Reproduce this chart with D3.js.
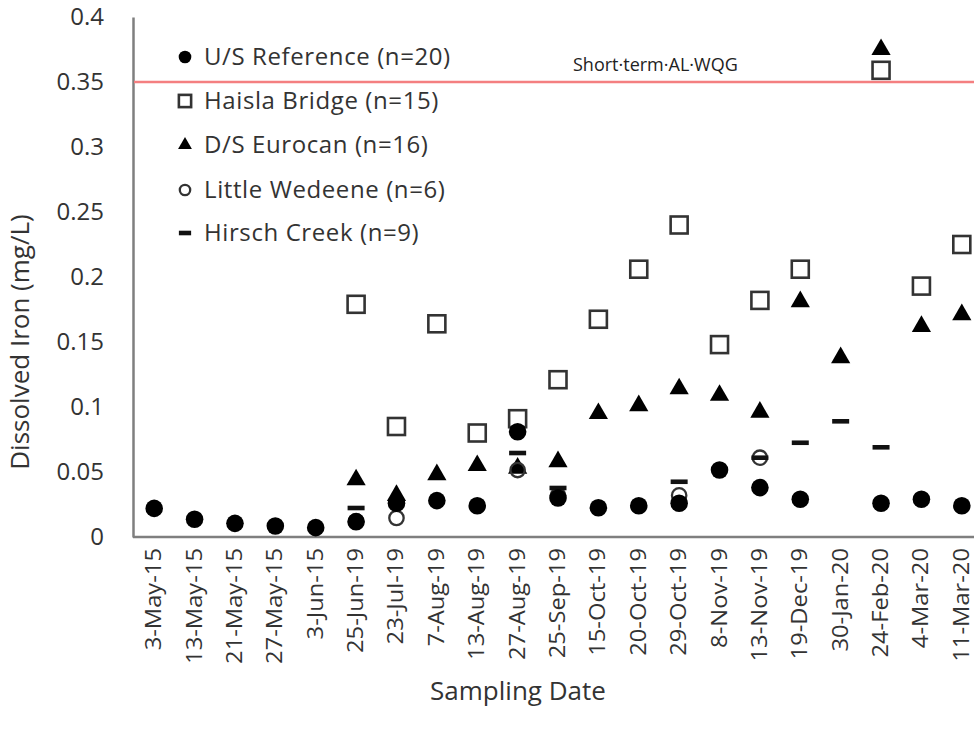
<!DOCTYPE html>
<html><head><meta charset="utf-8">
<script src="https://cdn.jsdelivr.net/npm/d3@7"></script>
<style>body{margin:0;background:#fff}svg{display:block}</style>
</head><body><svg id="chart" width="974" height="735"></svg>
<script>
const dates = ["3-May-15","13-May-15","21-May-15","27-May-15","3-Jun-15","25-Jun-19","23-Jul-19","7-Aug-19","13-Aug-19","27-Aug-19","25-Sep-19","15-Oct-19","20-Oct-19","29-Oct-19","8-Nov-19","13-Nov-19","19-Dec-19","30-Jan-20","24-Feb-20","4-Mar-20","11-Mar-20"];
// null = not sampled
const usReference = [0.022,0.0136,0.0105,0.0085,0.0072,0.0118,0.026,0.028,0.024,0.081,0.030,0.0225,0.024,0.026,0.0515,0.038,0.029,null,0.026,0.029,0.024];
const haislaBridge = [null,null,null,null,null,0.179,0.085,0.164,0.080,0.091,0.121,0.1675,0.206,0.240,0.148,0.182,0.206,null,0.359,0.193,0.225];
const dsEurocan = [null,null,null,null,null,0.044,0.032,0.048,0.055,0.053,0.058,0.095,0.101,0.114,0.109,0.096,0.181,0.138,0.375,0.162,0.171];
const littleWedeene = [null,null,null,null,null,0.012,0.0146,null,null,0.0515,0.032,null,null,0.032,null,0.061,null,null,null,null,null];
const hirschCreek = [null,null,null,null,null,0.0223,0.026,null,null,0.0646,0.0377,null,null,0.0425,null,0.061,0.0725,0.089,0.069,null,null];
const seriesNames = ["U/S Reference (n=20)","Haisla Bridge (n=15)","D/S Eurocan (n=16)","Little Wedeene (n=6)","Hirsch Creek (n=9)"];
const yTicks = [0,0.05,0.1,0.15,0.2,0.25,0.3,0.35,0.4];
const guideline = 0.35;
const guideLabel = "Short·term·AL·WQG";
const xTitle = "Sampling Date";
const yTitle = "Dissolved Iron (mg/L)";

const svg = d3.select("#chart");
const font = "'Open Sans', sans-serif";
const textCol = "#333";
const left = 133, bottom = 537;
const x = d3.scaleBand().domain(dates).range([134, 982]).padding(0);
const y = d3.scaleLinear().domain([0, 0.4]).range([537, 17]);
const cx = d => x(d) + x.bandwidth()/2;

// axes
const yAxis = d3.axisLeft(y).tickValues(yTicks).tickSize(0).tickPadding(29).tickFormat(d => d3.format("")(+d.toFixed(2)));
const gy = svg.append("g").attr("transform", `translate(${left},0)`).call(yAxis);
gy.select(".domain").attr("stroke", "#7f7f7f").attr("stroke-width", 2.5);
gy.selectAll("text").attr("font-family", font).attr("font-size", 24).attr("fill", textCol);

const xAxis = d3.axisBottom(x).tickSize(0).tickPadding(0);
const gx = svg.append("g").attr("transform", `translate(0,${bottom})`).call(xAxis);
gx.select(".domain").remove();
svg.append("line").attr("x1", left).attr("x2", 982).attr("y1", bottom).attr("y2", bottom)
  .attr("stroke", "#7f7f7f").attr("stroke-width", 2.5);
gx.selectAll("text").attr("font-family", font).attr("font-size", 21).attr("fill", textCol)
  .attr("text-anchor", "end").attr("dy", null)
  .attr("transform", "translate(7,11) rotate(-90) scale(1.13,1)");

// guideline
svg.append("line").attr("x1", left + 1).attr("x2", 974).attr("y1", y(guideline)).attr("y2", y(guideline))
  .attr("stroke", "#f47f80").attr("stroke-width", 2.5);
svg.append("text").attr("x", 573).attr("y", 71).attr("font-family", font).attr("font-size", 18)
  .attr("fill", "#222").text(guideLabel);

// titles
svg.append("text").attr("x", 518).attr("y", 700).attr("text-anchor", "middle")
  .attr("font-family", font).attr("font-size", 26).attr("fill", textCol).text(xTitle);
svg.append("text").attr("transform", "translate(29,342) rotate(-90)").attr("text-anchor", "middle")
  .attr("font-family", font).attr("font-size", 26).attr("fill", textCol).text(yTitle);

// marker painters
function marker(g, kind, s) {
  if (kind === 0) g.append("circle").attr("r", 8.8*s).attr("fill", "#000");
  else if (kind === 1) g.append("rect").attr("x", -8.5*s).attr("y", -8.5*s).attr("width", 17*s).attr("height", 17*s)
      .attr("fill", "none").attr("stroke", "#333").attr("stroke-width", 2.6);
  else if (kind === 2) g.append("path").attr("d", d3.symbol(d3.symbolTriangle, 160*s*s)()).attr("fill", "#000");
  else if (kind === 3) g.append("circle").attr("r", 7.2*s).attr("fill", "none").attr("stroke", "#333").attr("stroke-width", 2.3);
  else if (kind === 4) g.append("rect").attr("x", -8.5*s).attr("y", -2.3).attr("width", 17*s).attr("height", 4.6).attr("fill", "#111");
}
const allSeries = [usReference, haislaBridge, dsEurocan, littleWedeene, hirschCreek];
// draw so the U/S Reference points sit on top
[1, 2, 3, 4, 0].forEach(k => {
  const vals = allSeries[k];
  const g = svg.append("g");
  vals.forEach((v, i) => {
    if (v === null) return;
    const m = g.append("g").attr("transform", `translate(${cx(dates[i])},${y(v)})`);
    marker(m, k, 1);
  });
});

// legend
const legY = [57, 101, 145, 190, 233];
seriesNames.forEach((name, k) => {
  const m = svg.append("g").attr("transform", `translate(185,${legY[k]})`);
  marker(m, k, 0.72);
  svg.append("text").attr("x", 204).attr("y", legY[k]).attr("dy", "0.35em")
    .attr("font-family", font).attr("font-size", 24).attr("letter-spacing", 0.6).attr("fill", textCol).text(name);
});
</script></body></html>
